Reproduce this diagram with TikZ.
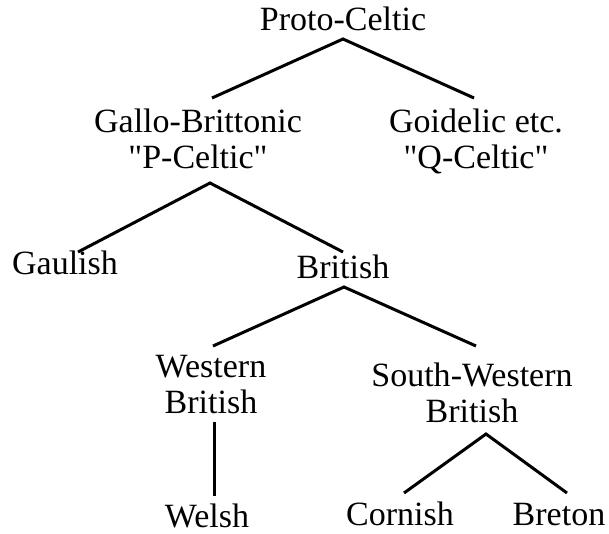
\documentclass[tikz,border=0pt]{standalone}
\usepackage{fontspec}
\setmainfont{Liberation Serif}
\begin{document}
\begin{tikzpicture}[x=1pt,y=-1pt,
  lang/.style={inner sep=0pt, anchor=base, align=center,
    font=\fontsize{34}{36}\selectfont},
  branch/.style={line width=3pt, black}]
\useasboundingbox (0,0) rectangle (609,533);
% languages (base anchor sits on the last line's baseline)
\node[lang] (pc) at (343,30) {Proto-Celtic};
\node[lang] (gb) at (198,168) {Gallo-Brittonic\\\textquotedbl P-Celtic\textquotedbl};
\node[lang] (go) at (476,168) {Goidelic etc.\\\textquotedbl Q-Celtic\textquotedbl};
\node[lang] (ga) at (65,274) {Gaulish};
\node[lang] (br) at (343,278) {British};
\node[lang] (wb) at (211,413) {Western\\British};
\node[lang] (sw) at (472,422) {South-Western\\British};
\node[lang] (we) at (207,527) {Welsh};
\node[lang] (co) at (400,525) {Cornish};
\node[lang] (bt) at (559,525) {Breton};
% branch points and branch ends
\coordinate (pcJ) at (343,39);
\coordinate (gbT) at (212,98);
\coordinate (goT) at (474,98);
\coordinate (gbJ) at (210,183);
\coordinate (gaT) at (78,252);
\coordinate (brT) at (343,252);
\coordinate (brJ) at (344,287);
\coordinate (wbT) at (213,346);
\coordinate (swT) at (476,346);
\coordinate (wbJ) at (214,422);
\coordinate (weT) at (214,496);
\coordinate (swJ) at (486,434);
\coordinate (coT) at (404,493);
\coordinate (btT) at (567,493);
% tree branches
\draw[branch] (gbT) -- (pcJ) -- (goT);
\draw[branch] (gaT) -- (gbJ) -- (brT);
\draw[branch] (wbT) -- (brJ) -- (swT);
\draw[branch] (wbJ) -- (weT);
\draw[branch] (coT) -- (swJ) -- (btT);
\end{tikzpicture}
\end{document}
